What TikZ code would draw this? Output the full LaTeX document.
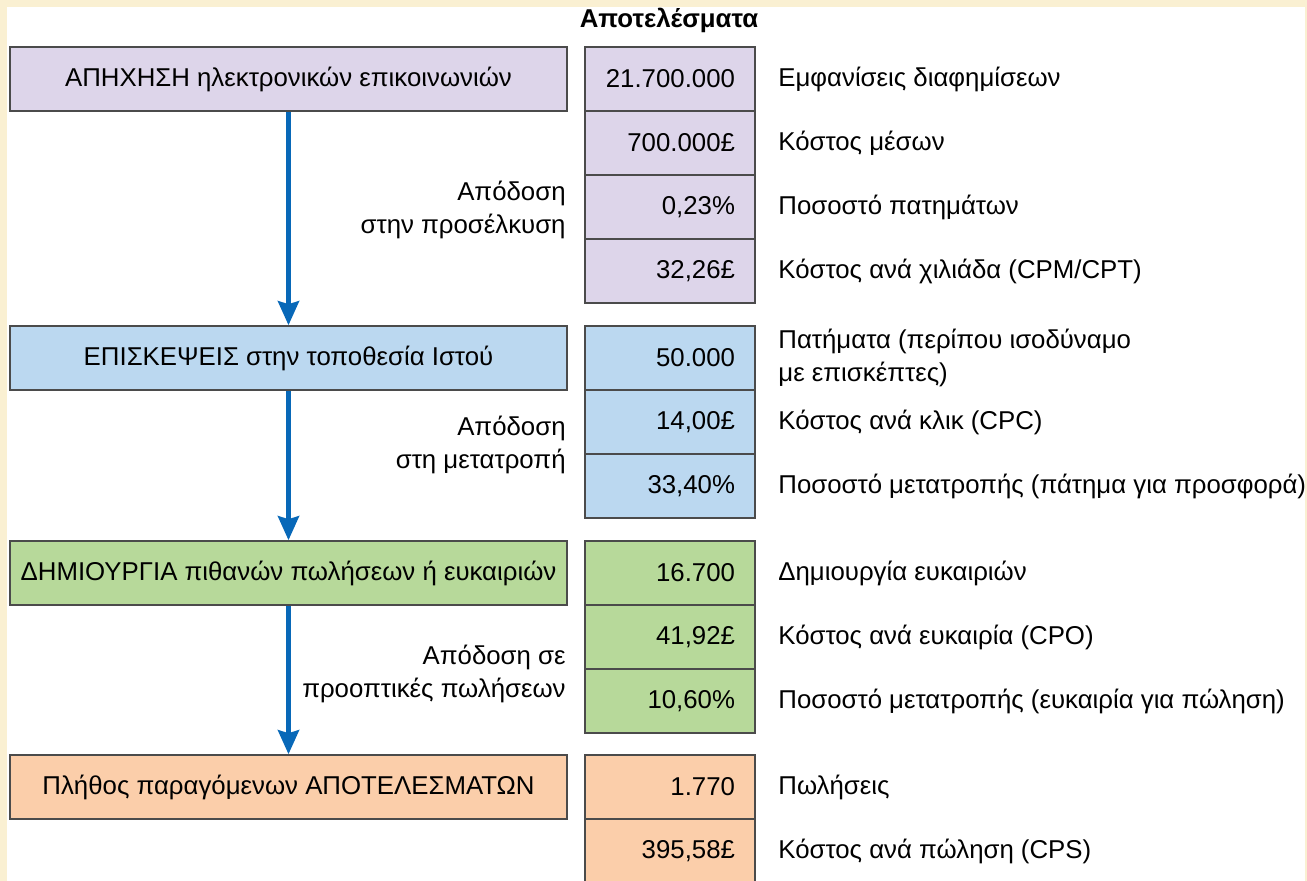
\documentclass[tikz,border=0pt]{standalone}
\usepackage{fontspec}
\setmainfont{Liberation Sans}
\usepackage{xcolor}
\usetikzlibrary{arrows.meta, positioning}

\definecolor{cream}{RGB}{250,240,210}
\definecolor{lila}{RGB}{221,213,234}
\definecolor{sky}{RGB}{187,216,240}
\definecolor{leaf}{RGB}{183,217,154}
\definecolor{peach}{RGB}{251,206,170}
\definecolor{flowblue}{RGB}{8,104,184}
\definecolor{edgegray}{RGB}{75,75,75}

\begin{document}
\begin{tikzpicture}[x=0.5pt, y=-0.5pt,
        every node/.style={font=\fontsize{12.9}{16.5}\selectfont},
        stage/.style={draw=edgegray, line width=0.8pt, minimum width=278.5pt, minimum height=32pt, inner sep=0pt},
        cell/.style={draw=edgegray, line width=0.8pt, text width=65pt, align=right, minimum height=32pt, inner xsep=10pt, inner ysep=0pt},
        note/.style={anchor=west, align=left, inner sep=0pt},
        perf/.style={anchor=east, align=right, inner sep=0pt},
        flow/.style={draw=flowblue, line width=2.3pt, -{Stealth[length=12pt, width=10.5pt, inset=1.5pt]}}]
                        \useasboundingbox (0,0) rectangle (1307,881);
                        \fill[cream] (0,0) rectangle (1307,881);
                        \fill[white] (7,7) rectangle (1305,881);
                        \node[font=\fontsize{12.9}{16.5}\selectfont\bfseries] (title) at (669,20) {Αποτελέσματα};
                        % stages
                        \node[stage, fill=lila] (reach) at (288.5,79) {ΑΠΗΧΗΣΗ ηλεκτρονικών επικοινωνιών};
                        \node[stage, fill=sky] (visits) at (288.5,358) {ΕΠΙΣΚΕΨΕΙΣ στην τοποθεσία Ιστού};
                        \node[stage, fill=leaf] (leads) at (288.5,573) {ΔΗΜΙΟΥΡΓΙΑ πιθανών πωλήσεων ή ευκαιριών};
                        \node[stage, fill=peach] (sales) at (288.5,787) {Πλήθος παραγόμενων ΑΠΟΤΕΛΕΣΜΑΤΩΝ};
                        % results
                        \node[cell, fill=lila] (r1) at (670,79) {21.700.000};
                        \node[cell, fill=lila] (r2) at (670,143) {700.000£};
                        \node[cell, fill=lila] (r3) at (670,207) {0,23\%};
                        \node[cell, fill=lila] (r4) at (670,271) {32,26£};
                        \node[cell, fill=sky] (v1) at (670,358) {50.000};
                        \node[cell, fill=sky] (v2) at (670,422) {14,00£};
                        \node[cell, fill=sky] (v3) at (670,486) {33,40\%};
                        \node[cell, fill=leaf] (l1) at (670,573) {16.700};
                        \node[cell, fill=leaf] (l2) at (670,637) {41,92£};
                        \node[cell, fill=leaf] (l3) at (670,701) {10,60\%};
                        \node[cell, fill=peach] (s1) at (670,787) {1.770};
                        \node[cell, fill=peach] (s2) at (670,851) {395,58£};
                        % notes
                        \node[note] (r1n) at (778,79) {Εμφανίσεις διαφημίσεων};
                        \node[note] (r2n) at (778,143) {Κόστος μέσων};
                        \node[note] (r3n) at (778,207) {Ποσοστό πατημάτων};
                        \node[note] (r4n) at (778,271) {Κόστος ανά χιλιάδα (CPM/CPT)};
                        \node[note] (v1n) at (778,358) {Πατήματα (περίπου ισοδύναμο\\με επισκέπτες)};
                        \node[note] (v2n) at (778,422) {Κόστος ανά κλικ (CPC)};
                        \node[note] (v3n) at (778,486) {Ποσοστό μετατροπής (πάτημα για προσφορά)};
                        \node[note] (l1n) at (778,573) {Δημιουργία ευκαιριών};
                        \node[note] (l2n) at (778,637) {Κόστος ανά ευκαιρία (CPO)};
                        \node[note] (l3n) at (778,701) {Ποσοστό μετατροπής (ευκαιρία για πώληση)};
                        \node[note] (s1n) at (778,787) {Πωλήσεις};
                        \node[note] (s2n) at (778,851) {Κόστος ανά πώληση (CPS)};
                        % performance
                        \node[perf] (p1) at (566,210) {Απόδοση\\στην προσέλκυση};
                        \node[perf] (p2) at (566,445) {Απόδοση\\στη μετατροπή};
                        \node[perf] (p3) at (566,674) {Απόδοση σε\\προοπτικές πωλήσεων};
                        \draw
                        (reach) edge[flow] (visits)
                        (visits) edge[flow] (leads)
                        (leads) edge[flow] (sales);
                    \end{tikzpicture}
\end{document}
